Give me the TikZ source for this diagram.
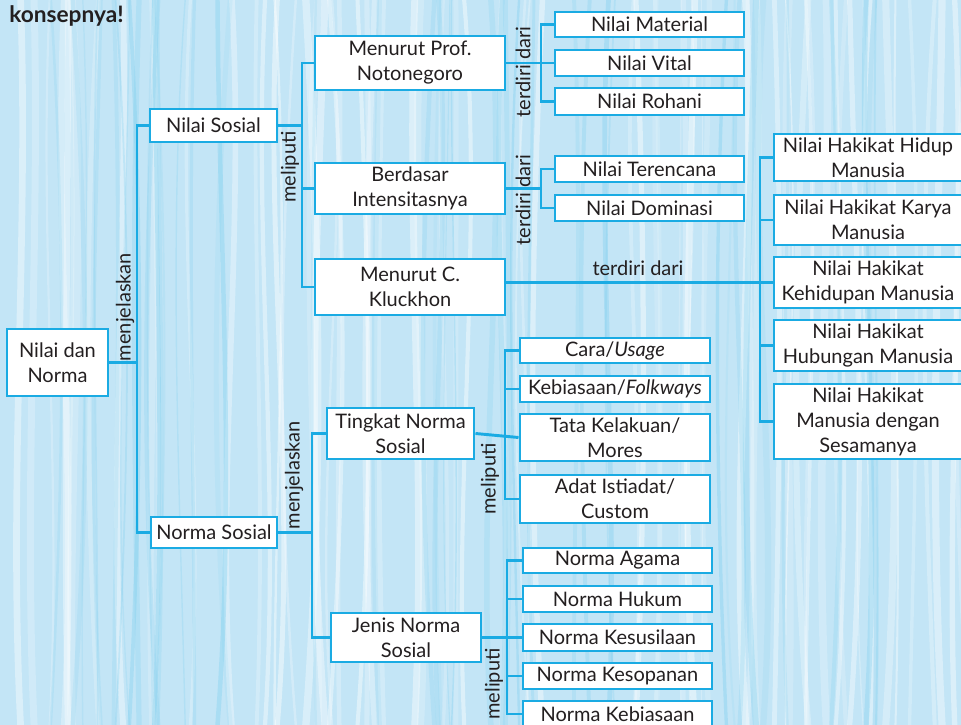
\documentclass[tikz,border=0pt]{standalone}
\usepackage{fontspec}
\setmainfont{Lato}
\definecolor{bl}{HTML}{1AABE3}
\definecolor{bgc}{HTML}{C3E5F6}
\definecolor{txt}{HTML}{231F20}
\begin{document}
\begin{tikzpicture}[x=0.75pt,y=-0.75pt,
  box/.style={draw=bl, fill=white, line width=2.2pt, inner sep=0pt, align=center,
    text=txt, font=\fontsize{15}{18.75}\selectfont},
  wh/.style 2 args={minimum width=#1*0.75pt, minimum height=#2*0.75pt},
  conn/.style={draw=bl, line width=2.2pt, line join=miter},
  lbl/.style={text=txt, font=\fontsize{15}{16}\selectfont, inner sep=0pt},
  vlbl/.style={lbl, rotate=90}]
\useasboundingbox (0,0) rectangle (961,725);
\clip (0,0) rectangle (961,725);
\fill[bgc] (0,0) rectangle (961,725);
% wood-like texture
\pgfmathsetseed{7}
\foreach \i in {1,...,70}{
  \pgfmathsetmacro\xa{rnd*980-10}
  \pgfmathsetmacro\da{rnd*40-20}
  \pgfmathsetmacro\db{rnd*40-20}
  \pgfmathsetmacro\wd{0.8+rnd*5}
  \pgfmathsetmacro\op{0.15+rnd*0.3}
  \draw[white, opacity=\op, line width=\wd pt] (\xa,0) .. controls (\xa+\da,240) and (\xa+\db,480) .. (\xa,725);
}
\foreach \i in {1,...,45}{
  \pgfmathsetmacro\xa{rnd*980-10}
  \pgfmathsetmacro\da{rnd*40-20}
  \pgfmathsetmacro\db{rnd*40-20}
  \pgfmathsetmacro\wd{0.8+rnd*4}
  \pgfmathsetmacro\op{0.1+rnd*0.25}
  \draw[bl!60, opacity=\op, line width=\wd pt] (\xa,0) .. controls (\xa+\da,240) and (\xa+\db,480) .. (\xa,725);
}

\node[anchor=base west, text=txt, font=\fontsize{17}{18}\selectfont\bfseries, inner sep=0pt] (title) at (9,22) {konsepnya!};

% connectors (drawn first, boxes cover their ends)
\coordinate (j1) at (137,362.5);
\coordinate (j2) at (302,125.5);
\coordinate (j3) at (541,63);
\coordinate (j4) at (541,188.5);
\coordinate (j5) at (760,282.5);
\coordinate (j6) at (312,532.5);
\coordinate (j7) at (505,437.5);
\coordinate (j8) at (507,637.5);

% nodes
\node[box, wh={101}{67}] (root) at (57.5,362.5) {Nilai dan\\Norma};
\node[box, wh={127}{33}] (ns) at (213.5,125.5) {Nilai Sosial};
\node[box, wh={126}{31}] (nm) at (214,532.5) {Norma Sosial};

\node[box, wh={190}{54}] (prof) at (410,63) {Menurut Prof.\\Notonegoro};
\node[box, wh={190}{51}] (ber) at (410,188.5) {Berdasar\\Intensitasnya};
\node[box, wh={190}{56}] (kl) at (410,287) {Menurut C.\\Kluckhon};

\node[box, wh={189}{25}] (mat) at (649.5,24.5) {Nilai Material};
\node[box, wh={189}{26}] (vit) at (649.5,63) {Nilai Vital};
\node[box, wh={189}{27}] (roh) at (649.5,101.5) {Nilai Rohani};
\node[box, wh={189}{26}] (ter) at (649.5,169) {Nilai Terencana};
\node[box, wh={189}{26}] (dom) at (649.5,208) {Nilai Dominasi};

\node[box, wh={188}{47}] (h1) at (868,157.5) {Nilai Hakikat Hidup\\Manusia};
\node[box, wh={188}{50}] (h2) at (868,220) {Nilai Hakikat Karya\\Manusia};
\node[box, wh={188}{51}] (h3) at (868,282.5) {Nilai Hakikat\\Kehidupan Manusia};
\node[box, wh={188}{51}] (h4) at (868,345.5) {Nilai Hakikat\\Hubungan Manusia};
\node[box, wh={188}{75}] (h5) at (868,421.5) {Nilai Hakikat\\Manusia dengan\\Sesamanya};

\node[box, wh={147}{51}] (tk) at (400.5,433.5) {Tingkat Norma\\Sosial};
\node[box, wh={150}{49}] (jn) at (406,637.5) {Jenis Norma\\Sosial};

\node[box, wh={190}{25}] (cara) at (615,350.5) {Cara/\textit{Usage}};
\node[box, wh={190}{26}] (keb) at (615,389) {Kebiasaan/\textit{Folkways}};
\node[box, wh={190}{47}] (tata) at (615,437.5) {Tata Kelakuan/\\Mores};
\node[box, wh={190}{48}] (adat) at (615,499) {Adat Istiadat/\\Custom};

\node[box, wh={189}{25}] (ag) at (617.5,560.5) {Norma Agama};
\node[box, wh={189}{26}] (hk) at (617.5,599) {Norma Hukum};
\node[box, wh={189}{27}] (ks) at (617.5,637.5) {Norma Kesusilaan};
\node[box, wh={189}{26}] (kp) at (617.5,676) {Norma Kesopanan};
\node[box, wh={189}{26}] (kb) at (617.5,714) {Norma Kebiasaan};

% connectors
\draw[conn] (root.east) -- (j1);
\draw[conn] (ns.west) -| (j1) |- (nm.west);

\draw[conn] (ns.east) -- (j2);
\draw[conn] (prof.west) -| (j2) |- (kl.west);
\draw[conn] (ber.west) -- (ber.west -| j2);

\draw[conn] (prof.east) -- (vit.west);
\draw[conn] (mat.west) -| (j3) |- (roh.west);

\draw[conn] (ber.east) -- (j4);
\draw[conn] (ter.west) -| (j4) |- (dom.west);

\draw[conn] (kl.east |- h3.west) -- (h3.west);
\draw[conn] (h1.west) -| (j5) |- (h5.west);
\draw[conn] (h2.west) -- (h2.west -| j5);
\draw[conn] (h4.west) -- (h4.west -| j5);

\draw[conn] (nm.east) -- (j6);
\draw[conn] (tk.west) -| (j6) |- (jn.west);

\draw[conn] (tk.east) -- (tata.west);
\draw[conn] (cara.west) -| (j7) |- (adat.west);
\draw[conn] (keb.west) -- (keb.west -| j7);

\draw[conn] (jn.east) -- (ks.west);
\draw[conn] (ag.west) -| (j8) |- (kb.west);
\draw[conn] (hk.west) -- (hk.west -| j8);
\draw[conn] (kp.west) -- (kp.west -| j8);

% labels
\node[vlbl] (l1) at (125,307) {menjelaskan};
\node[vlbl] (l2) at (290,167) {meliputi};
\node[vlbl] (l3) at (523,72) {terdiri dari};
\node[vlbl] (l4) at (523,200) {terdiri dari};
\node[lbl] (l5) at (638,268) {terdiri dari};
\node[vlbl] (l6) at (294,475) {menjelaskan};
\node[vlbl] (l7) at (490,479) {meliputi};
\node[vlbl] (l8) at (494,684) {meliputi};
\end{tikzpicture}
\end{document}
